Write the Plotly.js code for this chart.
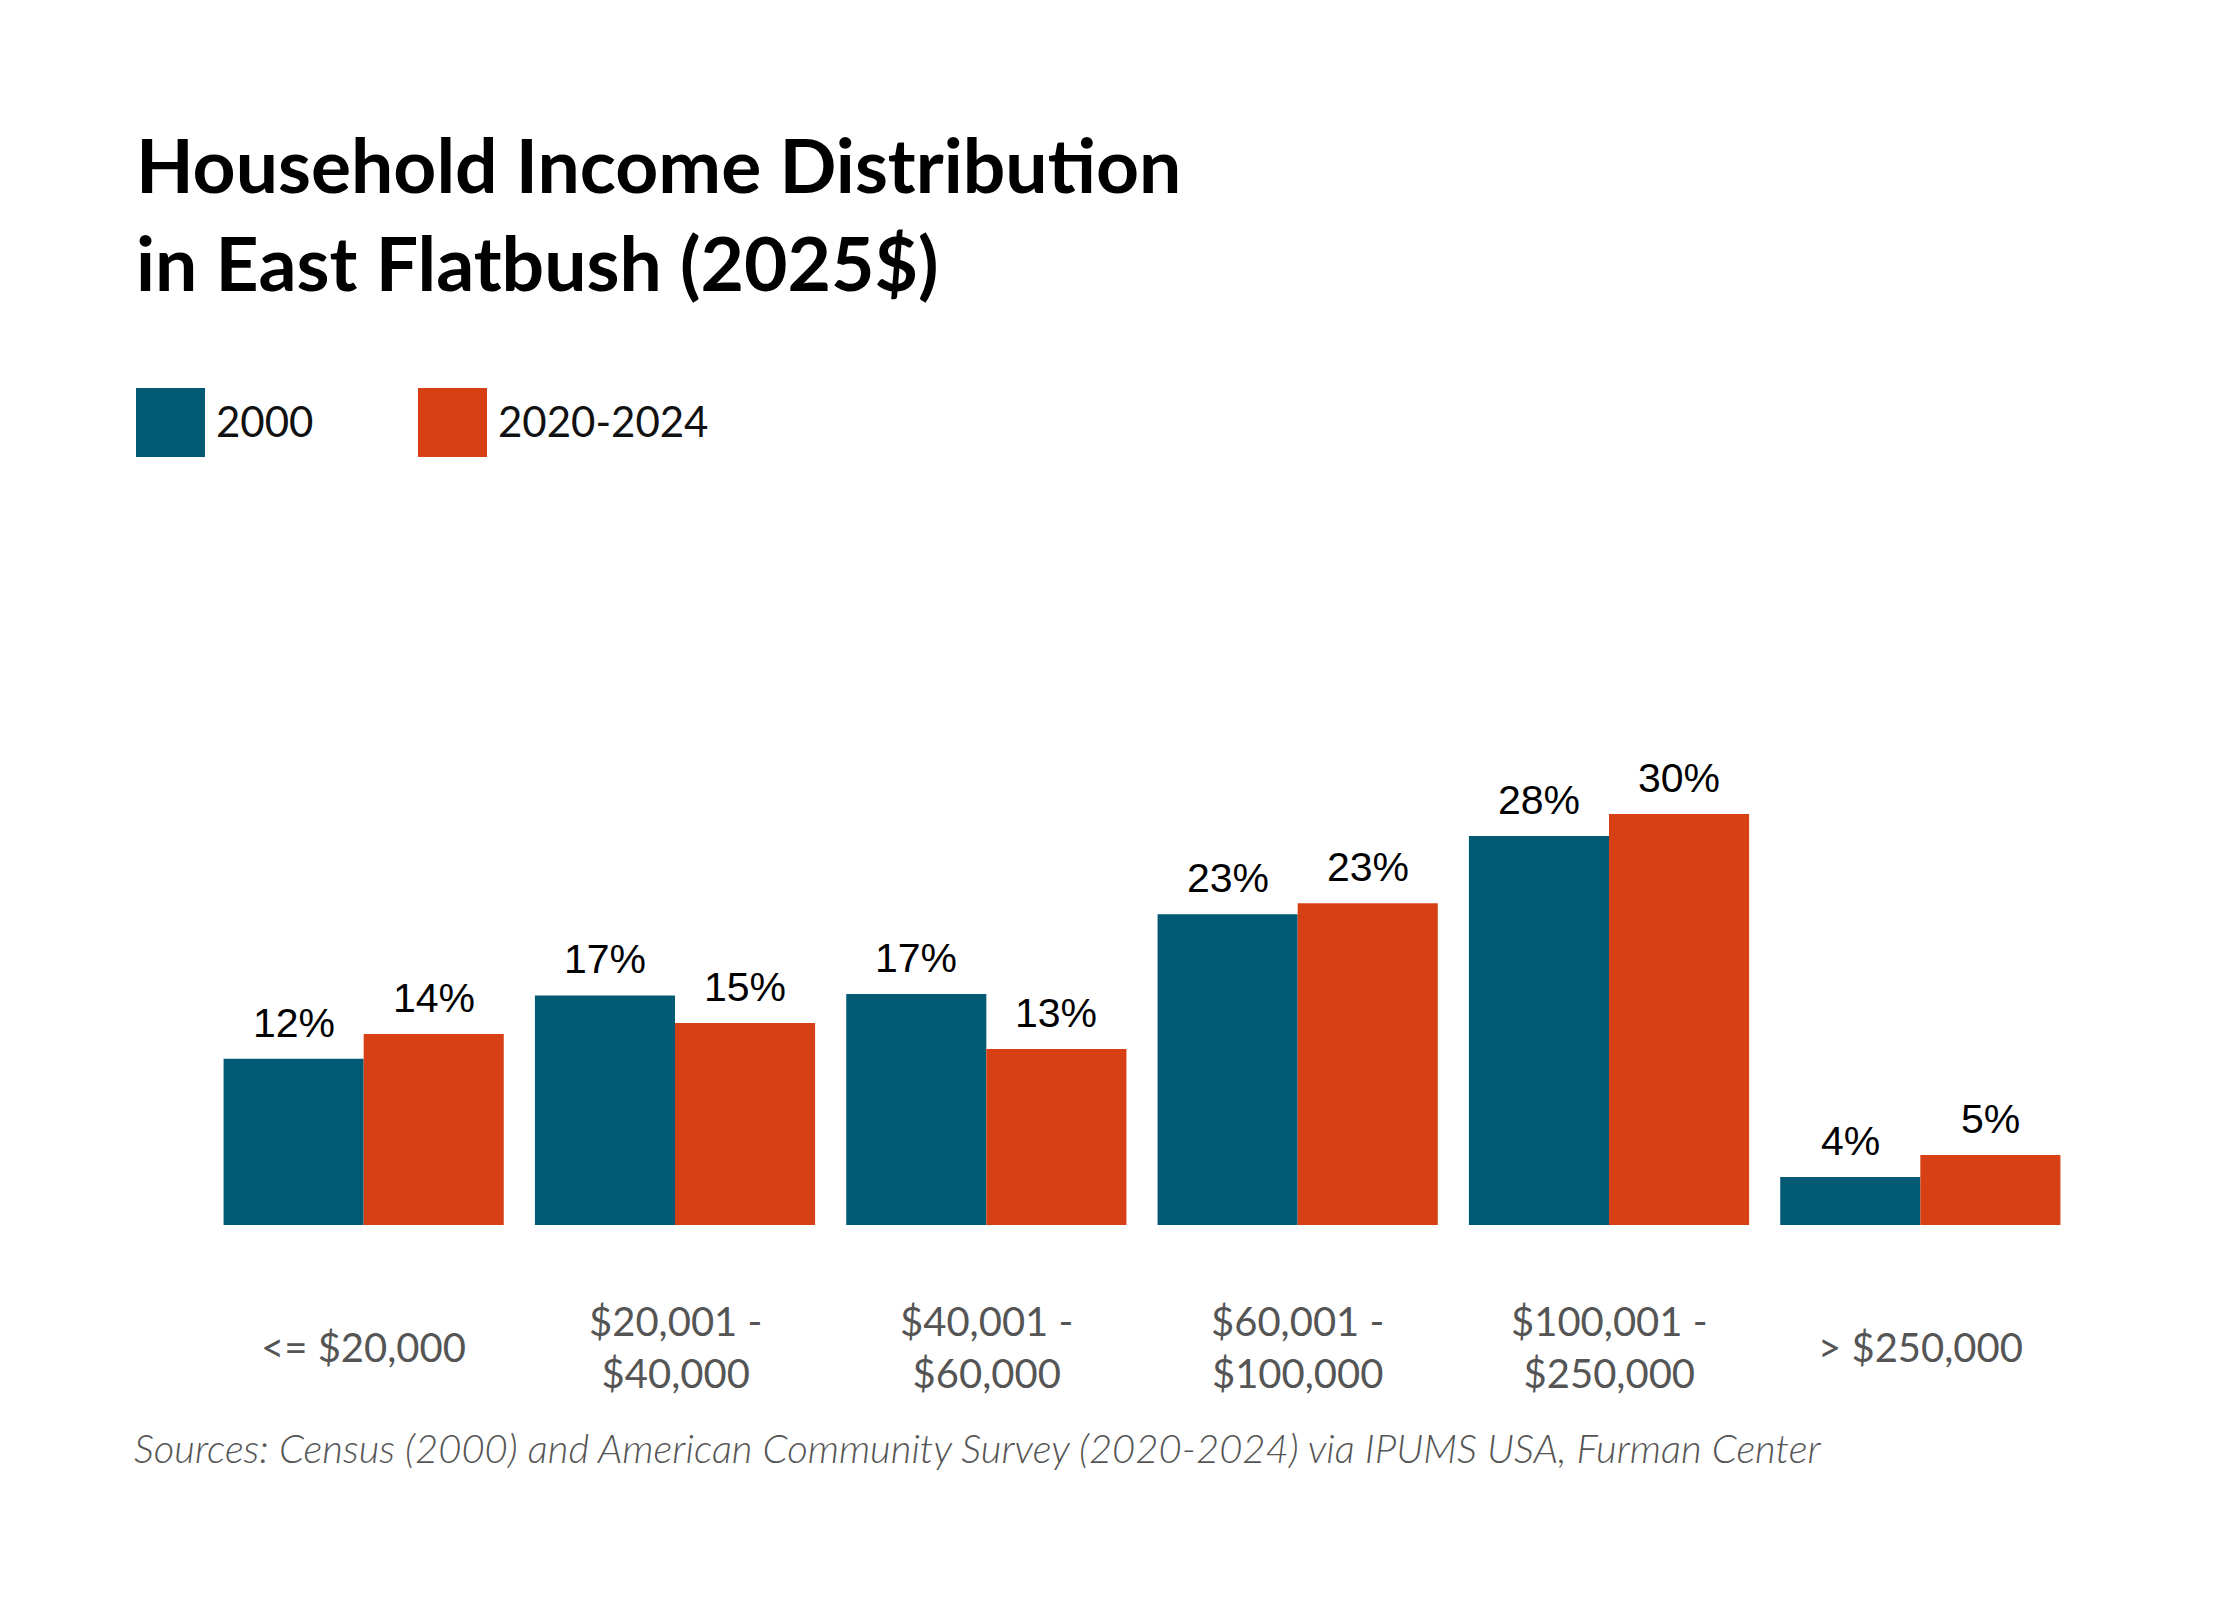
<!DOCTYPE html>
<html>
<head>
<meta charset="utf-8">
<script src="https://cdn.plot.ly/plotly-3.0.1.min.js"></script>
<style>
  html, body { margin: 0; padding: 0; background: #fff; }
  #myPlot { width: 2240px; height: 1600px; }
</style>
</head>
<body>
<div id="myPlot"></div>
<script>
// data
var categories = ['<= $20,000', '$20,001 -<br>$40,000', '$40,001 -<br>$60,000',
                  '$60,001 -<br>$100,000', '$100,001 -<br>$250,000', '> $250,000'];
var seriesNames = ['2000', '2020-2024'];
var values2000 = [12.1, 16.7, 16.8, 22.6, 28.3, 3.5];
var values2024 = [13.9, 14.7, 12.8, 23.4, 29.9, 5.1];
var sourceNote = 'Sources: Census (2000) and American Community Survey (2020-2024) via IPUMS USA, Furman Center';

var colors = ['#025a75', '#d74014'];

// page geometry (pixels)
var W = 2240, H = 1600;
var mL = 208, mR = 164, mT = 785, mB = 375;
var plotW = W - mL - mR, plotH = H - mT - mB;
var bargap = 0.1;
// half a bar's width, used to put value labels over each bar of a group
var halfBar = plotW / categories.length * (1 - bargap) / 4;

// pixel -> paper helpers for the hand-made legend and notes
function px(x) { return (x - mL) / plotW; }
function py(y) { return (H - mB - y) / plotH; }

function renderPlot() {
    var allValues = [values2000, values2024];
    var traces = allValues.map(function(vals, i) {
        return {
            type: 'bar',
            name: seriesNames[i],
            x: categories,
            y: vals,
            marker: {color: colors[i]},
            hoverinfo: 'skip',
            showlegend: false
        };
    });

    var annotations = [];

    // value labels above each bar
    allValues.forEach(function(vals, i) {
        vals.forEach(function(v, j) {
            annotations.push({
                xref: 'x', yref: 'y', x: categories[j], y: v,
                xshift: (i === 0 ? -1 : 1) * halfBar, yshift: 11,
                xanchor: 'center', yanchor: 'bottom',
                text: Math.round(v) + '%', showarrow: false,
                font: {family: 'Liberation Sans, Arial, sans-serif', size: 41, color: '#000'}
            });
        });
    });

    // category labels, centred under each group
    categories.forEach(function(c) {
        annotations.push({
            xref: 'x', yref: 'paper', x: c, y: py(1347),
            xanchor: 'center', yanchor: 'middle',
            text: c, showarrow: false,
            font: {family: 'Lato, sans-serif', size: 40, color: '#555'},
            align: 'center'
        });
    });

    // legend
    var legendX = [136, 418];
    var shapes = [];
    seriesNames.forEach(function(n, i) {
        shapes.push({
            type: 'rect', xref: 'paper', yref: 'paper',
            x0: px(legendX[i]), x1: px(legendX[i] + 69),
            y0: py(457), y1: py(388),
            fillcolor: colors[i], line: {width: 0}
        });
        annotations.push({
            xref: 'paper', yref: 'paper',
            x: px(legendX[i] + 78), y: py(421),
            xanchor: 'left', yanchor: 'middle',
            text: n, showarrow: false,
            font: {family: 'Lato, sans-serif', size: 42, color: '#111'}
        });
    });

    // source note
    annotations.push({
        xref: 'paper', yref: 'paper',
        x: px(132), y: py(1448),
        xanchor: 'left', yanchor: 'middle',
        text: '<i>' + sourceNote + '</i>', showarrow: false,
        font: {family: 'Lato, sans-serif', size: 40, color: '#555', weight: 300}
    });

    var layout = {
        width: W, height: H,
        margin: {l: mL, r: mR, t: mT, b: mB, pad: 0},
        paper_bgcolor: '#fff', plot_bgcolor: '#fff',
        title: {
            text: 'Household Income Distribution<br>in East Flatbush (2025$)',
            xref: 'container', yref: 'container',
            x: 136 / W, xanchor: 'left',
            y: 1 - 193 / H, yanchor: 'top',
            font: {family: 'Lato, sans-serif', size: 75, weight: 700, color: '#000'}
        },
        barmode: 'group',
        bargap: bargap,
        bargroupgap: 0,
        xaxis: {
            showticklabels: false, showgrid: false, zeroline: false,
            showline: false, ticks: '', fixedrange: true
        },
        yaxis: {
            range: [0, 32], visible: false, showgrid: false, zeroline: false,
            fixedrange: true
        },
        shapes: shapes,
        annotations: annotations,
        showlegend: false
    };

    Plotly.newPlot('myPlot', traces, layout, {displayModeBar: false, staticPlot: true});
}

renderPlot();
</script>
</body>
</html>
